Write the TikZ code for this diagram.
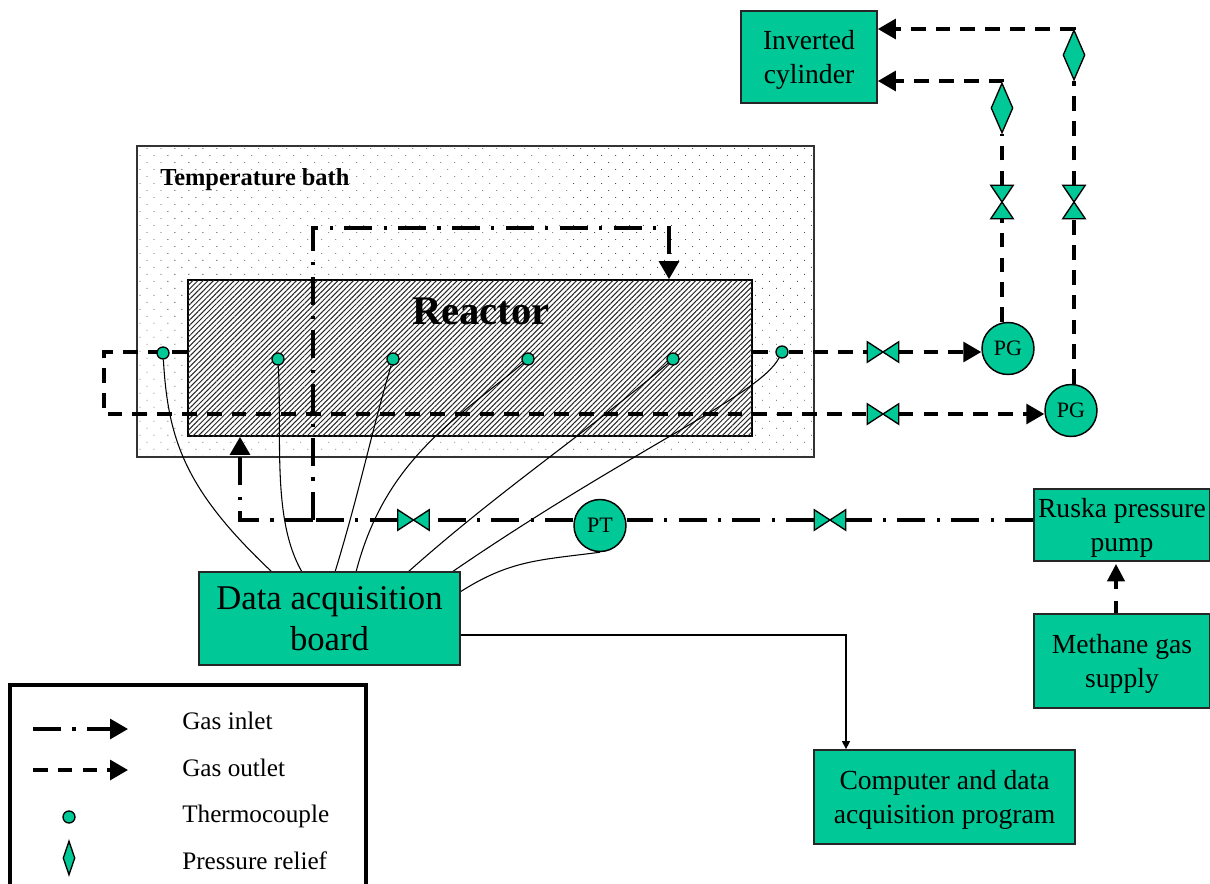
\documentclass[tikz,border=0pt]{standalone}
\usepackage{fontspec}
\setmainfont{Liberation Serif}
\usetikzlibrary{arrows.meta,patterns.meta,shapes.geometric,calc}
\pgfdeclarelayer{base}
\pgfdeclarelayer{lines}
\pgfsetlayers{base,lines,main}
\newcommand{\pxl}[1]{#1*0.75pt}
\definecolor{gr}{HTML}{00C896}
\newcommand{\fsz}[2]{\fontsize{#1}{#2}\selectfont}
\tikzset{
  x=0.75pt,y=-0.75pt,
  box/.style={draw=black!85,line width=1.3pt,fill=gr,align=center,inner sep=0pt,text depth=0pt,font=\fsz{20.7}{25.5}},
  tipa/.style={-{Triangle[length=13.5pt,width=15pt]}},
  outlet/.style={line width=2.4pt,dash pattern=on 11pt off 7.6pt},
  inlet/.style={line width=2.4pt,dash pattern=on 21pt off 8.5pt on 2.4pt off 8.5pt},
  wire/.style={line width=0.8pt,black},
  tc/.style={circle,draw=black,line width=1pt,fill=gr,minimum size=\pxl{12},inner sep=0pt},
  pgc/.style={circle,draw=black,line width=1.1pt,fill=gr,minimum size=\pxl{52},inner sep=0pt,font=\fsz{16.5}{20}},
  relief/.style={diamond,draw=black,line width=1pt,fill=gr,minimum width=\pxl{22},minimum height=\pxl{50},inner sep=0pt},
  vshape/.style={draw=black,line width=1pt,fill=gr,line join=miter},
  lab/.style={anchor=west,inner sep=0pt,font=\fsz{18.9}{22}},
}
\newcommand{\valveh}[3]{\node[inner sep=0pt,minimum width=\pxl{31},minimum height=\pxl{20}] (#1) at (#2,#3) {};
  \draw[vshape] (#1.north west)--(#1.south east)--(#1.north east)--(#1.south west)--cycle;}
\newcommand{\valvev}[3]{\node[inner sep=0pt,minimum width=\pxl{22},minimum height=\pxl{33}] (#1) at (#2,#3) {};
  \draw[vshape] (#1.north west)--(#1.north east)--(#1.south west)--(#1.south east)--cycle;}
\begin{document}
\begin{tikzpicture}
\useasboundingbox (0,0) rectangle (1210,883);
\clip (0,0) rectangle (1210,883);
% bath and reactor
\begin{pgfonlayer}{base}
\fill[white] (0,0) rectangle (1210,883);
\node[draw=black!80,line width=1.3pt,minimum width=\pxl{677},minimum height=\pxl{311},inner sep=0pt,
  preaction={pattern={Dots[distance=7.42pt,angle=45,radius=0.42pt]},pattern color=black!70}] (bath) at (475.5,301.5) {};
\node[draw=black,line width=1.3pt,fill=white,minimum width=\pxl{564},minimum height=\pxl{156},inner sep=0pt,
  postaction={pattern={Lines[angle=45,distance=2.75pt,line width=0.75pt]},pattern color=black!85}] (reactor) at (470,358) {};
\end{pgfonlayer}
\node[anchor=west,inner sep=0pt,font=\bfseries\fsz{18.3}{22}] (bathlabel) at (160,180) {Temperature bath};
\node[inner sep=0pt,font=\bfseries\fsz{30.5}{36}] (reactorlabel) at (481,311) {Reactor};
% boxes
\node[box,minimum width=\pxl{136},minimum height=\pxl{92}] (cyl) at (809,57) {Inverted\\cylinder};
\node[box,minimum width=\pxl{261},minimum height=\pxl{93},font=\fsz{26}{31}] (board) at (329.5,618.5) {Data acquisition\\board};
\node[box,minimum width=\pxl{176},minimum height=\pxl{72}] (ruska) at (1122,525) {Ruska pressure\\pump};
\node[box,minimum width=\pxl{176},minimum height=\pxl{94}] (meth) at (1122,661) {Methane gas\\supply};
\node[box,minimum width=\pxl{261},minimum height=\pxl{94}] (comp) at (944.5,797) {Computer and data\\acquisition program};
% instruments
\node[pgc] (pg1) at (1008,348.5) {PG};
\node[pgc] (pg2) at (1071,410.5) {PG};
\node[pgc] (pt) at (600,525.5) {PT};
\node[relief] (r1) at (1002,108) {};
\node[relief] (r2) at (1074,55) {};
\valvev{vv1}{1002}{202}
\valvev{vv2}{1074}{202}
\valveh{vh1}{883}{352}
\valveh{vh2}{883}{414}
\valveh{vh3}{413.5}{520}
\valveh{vh4}{830}{520}
\node[tc] (t1) at (163,353) {};
\node[tc] (t2) at (278,359) {};
\node[tc] (t3) at (393,359) {};
\node[tc] (t4) at (528,359) {};
\node[tc] (t5) at (673,359) {};
\node[tc] (t6) at (782,352) {};
\coordinate (ol) at (104,352);
\coordinate (ob) at (104,414);
\coordinate (c1) at (1002,81);
\coordinate (c2) at (1074,29);
\coordinate (il) at (240,520);
\coordinate (ij) at (313,520);
\coordinate (it) at (313,228);
\coordinate (ir) at (669,228);
\coordinate (marr1) at (1116,614);
\coordinate (marr2) at (1116,564);
\coordinate (bout) at (460,635);
\coordinate (bcor) at (846,635);
\begin{pgfonlayer}{lines}
\draw[outlet] (reactor.west |- ol) -- (ol) -- (ob) -- (vh2);
\draw[outlet,tipa] (vh2) -- (pg2.west |- vh2);
\draw[outlet] (reactor.east |- t6) -- (t6) -- (vh1);
\draw[outlet,tipa] (vh1) -- (pg1.west |- vh1);
\draw[outlet] (pg1.north -| vv1) -- (vv1);
\draw[outlet] (vv1) -- (r1);
\draw[outlet,tipa] (r1.north) -- (c1) -- (cyl.east |- c1);
\draw[outlet] (pg2.north -| vv2) -- (vv2);
\draw[outlet] (vv2) -- (r2);
\draw[outlet,tipa] (r2.north) -- (c2) -- (cyl.east |- c2);
\draw[inlet] (ruska.west |- vh4) -- (vh4);
\draw[inlet] (vh4) -- (pt.east |- vh4);
\draw[inlet] (pt.west |- vh3) -- (vh3);
\draw[inlet] (vh3) -- (ij);
\draw[inlet,tipa] (ij) -- (il) -- (il |- reactor.south);
\draw[inlet,tipa] (ij) -- (it) -- (ir) -- (ir |- reactor.north);
\draw[line width=2.4pt,-{Triangle[length=13pt,width=13pt]},dash pattern=on 10pt off 9pt] (marr1) -- (marr2);
\draw[wire] (t1) .. controls (168,440) and (185,490) .. (272,572);
\draw[wire] (t2) .. controls (282,440) and (272,520) .. (302,572);
\draw[wire] (t3) .. controls (372,430) and (360,490) .. (335,572);
\draw[wire] (t4) .. controls (455,420) and (385,460) .. (356,572);
\draw[wire] (t5) .. controls (590,430) and (500,490) .. (408,572);
\draw[wire] (t6) .. controls (760,395) and (630,450) .. (452,572);
\draw[wire] (pt.south) .. controls (540,560) and (510,560) .. (460,592);
\draw[wire,-{Triangle[length=6pt,width=6pt]}] (bout) -- (bcor) -- (comp.north -| bcor);
\end{pgfonlayer}
% legend
\node[draw=black,line width=2.6pt,fill=white,minimum width=\pxl{356},minimum height=\pxl{215},inner sep=0pt] (legend) at (188,792.5) {};
\coordinate (a1) at (33,729); \coordinate (a2) at (128,729);
\coordinate (b1) at (33,770); \coordinate (b2) at (128,770);
\draw[inlet,tipa] (a1) -- (a2);
\draw[outlet,tipa] (b1) -- (b2);
\node[tc] (lt) at (69,817) {};
\node[relief,minimum width=\pxl{12},minimum height=\pxl{34}] (lr) at (69,858) {};
\node[lab] (l1) at (182,721) {Gas inlet};
\node[lab] (l2) at (182,768) {Gas outlet};
\node[lab] (l3) at (182,816) {Thermocouple};
\node[lab] (l4) at (182,861) {Pressure relief};
\end{tikzpicture}
\end{document}
